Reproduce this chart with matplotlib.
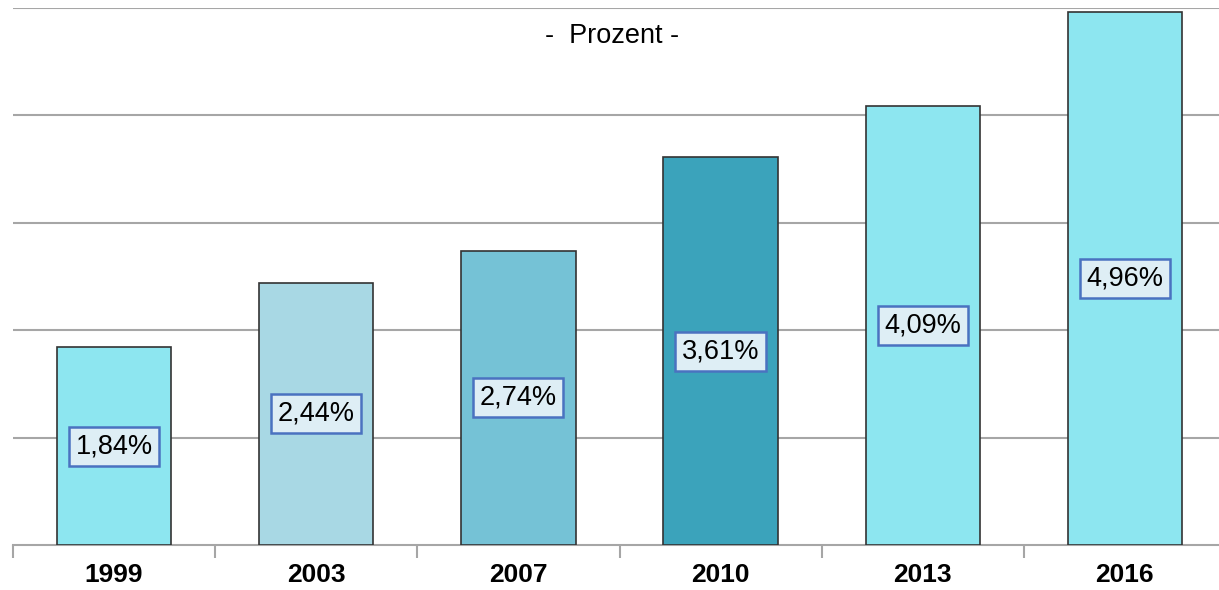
import matplotlib.pyplot as plt
import numpy as np

years = ['1999', '2003', '2007', '2010', '2013', '2016']
values = [1.84, 2.44, 2.74, 3.61, 4.09, 4.96]
bar_colors = ['#8de6f0', '#a8d8e4', '#75c2d6', '#3ba3bb', '#8de6f0', '#8de6f0']

plt.rcParams['font.family'] = ['Liberation Sans', 'DejaVu Sans']

fig = plt.figure(figsize=(12.19, 5.90), dpi=100)
ax = fig.add_axes([13 / 1219, 45 / 590, 1213 / 1219, 537 / 590])

x = np.arange(len(years))
ax.bar(x, values, width=0.565, color=bar_colors, edgecolor='#333333', linewidth=1.2, zorder=3)

for xi, v in zip(x, values):
    ax.text(xi, v / 2, f'{v:.2f}%'.replace('.', ','), ha='center', va='center',
            fontsize=19.5, color='black', zorder=4,
            bbox=dict(boxstyle='square,pad=0.24', facecolor='#deeef5',
                      edgecolor='#4a72c0', linewidth=1.8))

ax.set_xlim(-0.5, len(years) - 0.5)
ax.set_ylim(0, 5)
ax.set_yticks([1, 2, 3, 4, 5])
ax.yaxis.grid(True, color='#a6a6a6', linewidth=1.5, zorder=0)
ax.tick_params(axis='y', left=False, labelleft=False)

# category labels plus boundary ticks
ax.set_xticks(x)
ax.set_xticklabels(years, fontsize=19, fontweight='bold')
ax.tick_params(axis='x', length=0, pad=13)
ax.set_xticks(np.arange(len(years) + 1) - 0.5, minor=True)
ax.tick_params(axis='x', which='minor', length=9, width=1.5, color='#a6a6a6', direction='out')

for s in ['top', 'right', 'left']:
    ax.spines[s].set_visible(False)
ax.spines['bottom'].set_color('#a6a6a6')
ax.spines['bottom'].set_linewidth(1.5)

ax.text(612 / 1219, 1 - 36 / 590, '-  Prozent -', transform=fig.transFigure,
        ha='center', va='center', fontsize=19.5)

fig.savefig('out.png', dpi=100)
